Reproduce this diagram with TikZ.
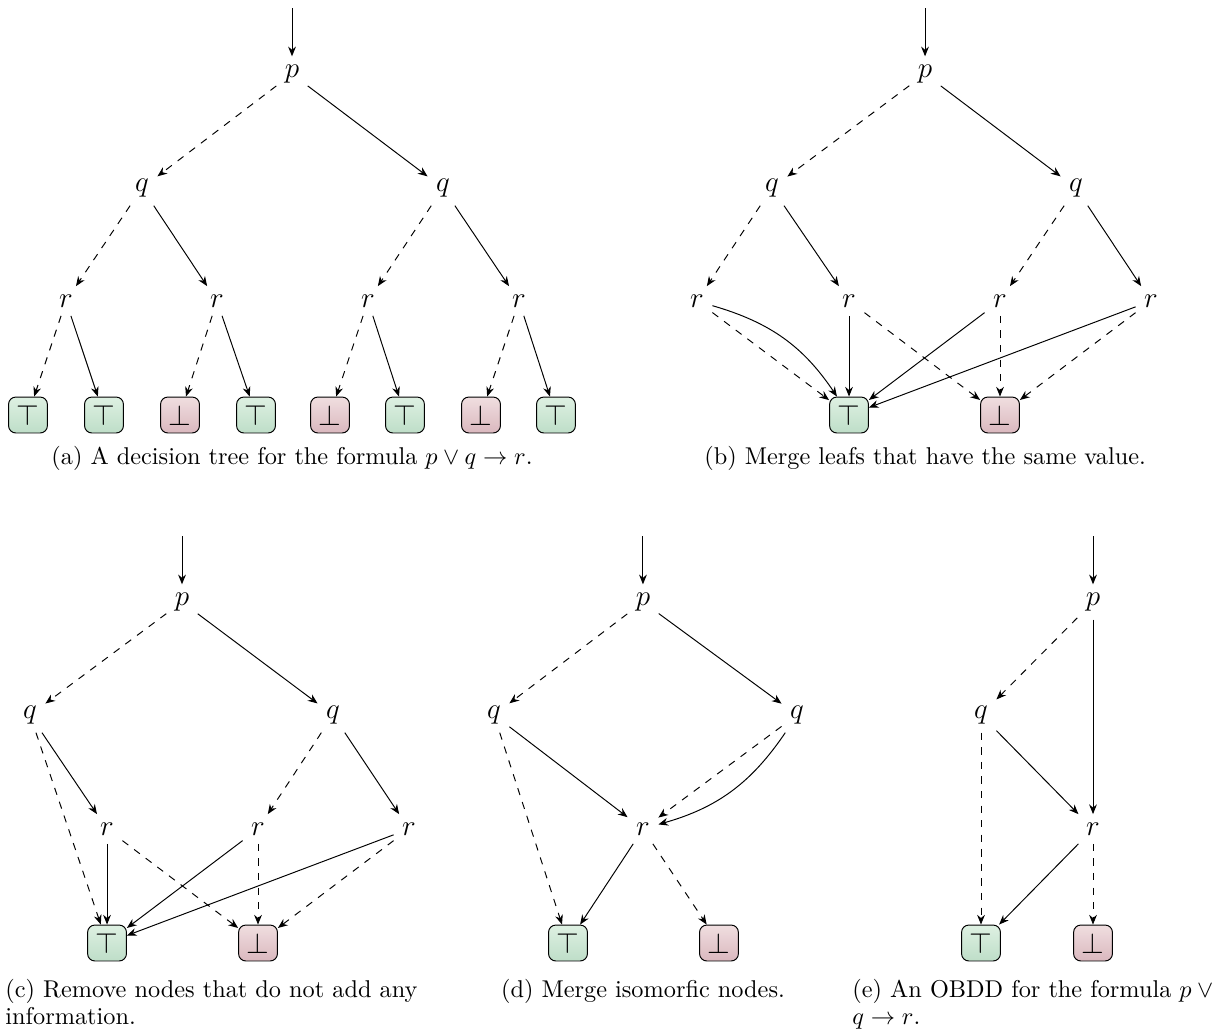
\documentclass[tikz,border=0pt]{standalone}
\usepackage{tikz}
\usetikzlibrary{arrows.meta,positioning}
\usepackage{amsmath}
\usepackage{xcolor}

\definecolor{topgreen}{RGB}{222,240,226}
\definecolor{botgreen}{RGB}{190,222,200}
\definecolor{topred}{RGB}{240,222,224}
\definecolor{botred}{RGB}{218,184,190}

\begin{document}
\begin{tikzpicture}[
    var/.style={font=\large},
    leaf/.style={draw=black, rounded corners=3pt, minimum width=16pt, minimum height=14.8pt, inner sep=0pt, font=\large},
    trueleaf/.style={leaf, top color=topgreen, bottom color=botgreen},
    falseleaf/.style={leaf, top color=topred, bottom color=botred},
    hi/.style={-{Stealth[length=4pt,width=3.2pt]}},
    lo/.style={hi, dashed},
    caption/.style={inner sep=0pt, font=\normalsize}
]
\useasboundingbox (0,0) rectangle (17.627,-14.964);

% (a) full decision tree
\coordinate (sa) at (4.226,-0.116);
\node[var] (pa) at (4.226,-1.071) {$p$};
\node[var] (qa1) at (2.055,-2.721) {$q$};
\node[var] (qa2) at (6.411,-2.721) {$q$};
\node[var] (ra1) at (0.955,-4.356) {$r$};
\node[var] (ra2) at (3.140,-4.356) {$r$};
\node[var] (ra3) at (5.326,-4.356) {$r$};
\node[var] (ra4) at (7.511,-4.356) {$r$};
\node[trueleaf] (la1) at (0.405,-6.006) {$\top$};
\node[trueleaf] (la2) at (1.505,-6.006) {$\top$};
\node[falseleaf] (la3) at (2.605,-6.006) {$\bot$};
\node[trueleaf] (la4) at (3.705,-6.006) {$\top$};
\node[falseleaf] (la5) at (4.776,-6.006) {$\bot$};
\node[trueleaf] (la6) at (5.861,-6.006) {$\top$};
\node[falseleaf] (la7) at (6.961,-6.006) {$\bot$};
\node[trueleaf] (la8) at (8.046,-6.006) {$\top$};

\draw[hi] (sa) -- (pa);
\draw[lo] (pa) -- (qa1);
\draw[hi] (pa) -- (qa2);
\draw[lo] (qa1) -- (ra1);
\draw[hi] (qa1) -- (ra2);
\draw[lo] (qa2) -- (ra3);
\draw[hi] (qa2) -- (ra4);
\draw[lo] (ra1) -- (la1);
\draw[hi] (ra1) -- (la2);
\draw[lo] (ra2) -- (la3);
\draw[hi] (ra2) -- (la4);
\draw[lo] (ra3) -- (la5);
\draw[hi] (ra3) -- (la6);
\draw[lo] (ra4) -- (la7);
\draw[hi] (ra4) -- (la8);

\node[caption, anchor=base] (capa) at (4.226,-6.729) {(a) A decision tree for the formula $p \lor q \to r$.};

% (b) shared leaves
\coordinate (sb) at (13.387,-0.116);
\node[var] (pb) at (13.387,-1.071) {$p$};
\node[var] (qb1) at (11.172,-2.721) {$q$};
\node[var] (qb2) at (15.572,-2.721) {$q$};
\node[var] (rb1) at (10.087,-4.356) {$r$};
\node[var] (rb2) at (12.287,-4.356) {$r$};
\node[var] (rb3) at (14.472,-4.356) {$r$};
\node[var] (rb4) at (16.657,-4.356) {$r$};
\node[trueleaf] (tb) at (12.287,-6.006) {$\top$};
\node[falseleaf] (fb) at (14.472,-6.006) {$\bot$};

\draw[hi] (sb) -- (pb);
\draw[lo] (pb) -- (qb1);
\draw[hi] (pb) -- (qb2);
\draw[lo] (qb1) -- (rb1);
\draw[hi] (qb1) -- (rb2);
\draw[lo] (qb2) -- (rb3);
\draw[hi] (qb2) -- (rb4);
\draw[lo] (rb1) -- (tb);
\draw[hi] (rb1) to[bend left=20] (tb);
\draw[hi] (rb2) -- (tb);
\draw[lo] (rb2) -- (fb);
\draw[hi] (rb3) -- (tb);
\draw[lo] (rb3) -- (fb);
\draw[hi] (rb4) -- (tb);
\draw[lo] (rb4) -- (fb);

\node[caption, anchor=base] (capb) at (13.387,-6.729) {(b) Merge leafs that have the same value.};

% (c) redundant r removed
\coordinate (sc) at (2.634,-7.757);
\node[var] (pc) at (2.634,-8.712) {$p$};
\node[var] (qc1) at (0.434,-10.347) {$q$};
\node[var] (qc2) at (4.819,-10.347) {$q$};
\node[var] (rc1) at (1.549,-11.997) {$r$};
\node[var] (rc2) at (3.734,-11.997) {$r$};
\node[var] (rc3) at (5.919,-11.997) {$r$};
\node[trueleaf] (tc) at (1.549,-13.647) {$\top$};
\node[falseleaf] (fc) at (3.734,-13.647) {$\bot$};

\draw[hi] (sc) -- (pc);
\draw[lo] (pc) -- (qc1);
\draw[hi] (pc) -- (qc2);
\draw[lo] (qc1) -- (tc);
\draw[hi] (qc1) -- (rc1);
\draw[lo] (qc2) -- (rc2);
\draw[hi] (qc2) -- (rc3);
\draw[hi] (rc1) -- (tc);
\draw[lo] (rc1) -- (fc);
\draw[hi] (rc2) -- (tc);
\draw[lo] (rc2) -- (fc);
\draw[hi] (rc3) -- (tc);
\draw[lo] (rc3) -- (fc);

\node[caption, anchor=north west, align=left] (capc) at (0.072,-14.165) {(c) Remove nodes that do not add any\\[-1pt] information.};

% (d) isomorphic r merged
\coordinate (sd) at (9.305,-7.757);
\node[var] (pd) at (9.305,-8.712) {$p$};
\node[var] (qd1) at (7.149,-10.347) {$q$};
\node[var] (qd2) at (11.534,-10.347) {$q$};
\node[var] (rd) at (9.305,-11.997) {$r$};
\node[trueleaf] (td) at (8.220,-13.647) {$\top$};
\node[falseleaf] (fd) at (10.405,-13.647) {$\bot$};

\draw[hi] (sd) -- (pd);
\draw[lo] (pd) -- (qd1);
\draw[hi] (pd) -- (qd2);
\draw[lo] (qd1) -- (td);
\draw[hi] (qd1) -- (rd);
\draw[lo] (qd2) -- (rd);
\draw[hi] (qd2) to[bend left=20] (rd);
\draw[hi] (rd) -- (td);
\draw[lo] (rd) -- (fd);

\node[caption, anchor=base] (capd) at (9.305,-14.429) {(d) Merge isomorfic nodes.};

% (e) final OBDD
\coordinate (se) at (15.818,-7.757);
\node[var] (pe) at (15.818,-8.712) {$p$};
\node[var] (qe) at (14.197,-10.347) {$q$};
\node[var] (re) at (15.818,-11.997) {$r$};
\node[trueleaf] (te) at (14.197,-13.647) {$\top$};
\node[falseleaf] (fe) at (15.818,-13.647) {$\bot$};

\draw[hi] (se) -- (pe);
\draw[lo] (pe) -- (qe);
\draw[hi] (pe) -- (re);
\draw[lo] (qe) -- (te);
\draw[hi] (qe) -- (re);
\draw[hi] (re) -- (te);
\draw[lo] (re) -- (fe);

\node[caption, anchor=north west, align=left] (cape) at (12.330,-14.165) {(e) An OBDD for the formula $p \lor{}$\\[-1pt] $q \to r$.};

\end{tikzpicture}
\end{document}
